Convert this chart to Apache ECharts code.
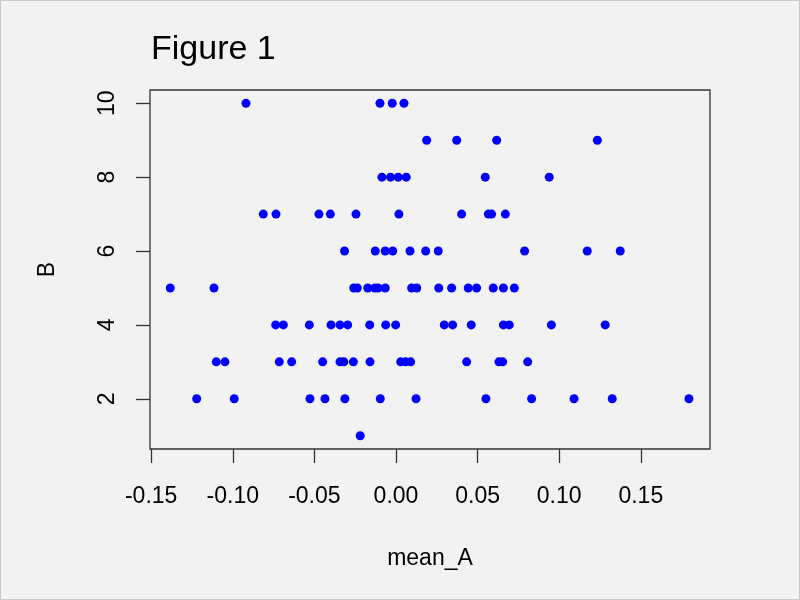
<!DOCTYPE html>
<html>
<head>
<meta charset="utf-8">
<script src="https://cdn.jsdelivr.net/npm/echarts@6/dist/echarts.min.js"></script>
<style>
  html, body { margin: 0; padding: 0; background: #f2f2f2; }
  #chart { width: 800px; height: 600px; }
</style>
</head>
<body>
<div id="chart"></div>
<script>
// mean_A values, one row per B level
var meanA = [
  -0.0919, -0.0098, -0.0023, 0.0049,
  0.0188, 0.0372, 0.0617, 0.1234,
  -0.0086, -0.0033, 0.0014, 0.0063, 0.0547, 0.0939,
  -0.0813, -0.0735, -0.0472, -0.0402, -0.0245, 0.0018, 0.0402, 0.0566, 0.0586, 0.0670,
  -0.0315, -0.0127, -0.0066, -0.0020, 0.0086, 0.0182, 0.0259, 0.0788, 0.1172, 0.1374,
  -0.1383, -0.1115, -0.0259, -0.0237, -0.0173, -0.0129, -0.0110, -0.0066, 0.0096, 0.0127,
  0.0262, 0.0341, 0.0443, 0.0494, 0.0596, 0.0658, 0.0725,
  -0.0737, -0.0690, -0.0531, -0.0398, -0.0343, -0.0296, -0.0161, -0.0063, -0.0002,
  0.0296, 0.0347, 0.0461, 0.0658, 0.0694, 0.0952, 0.1282,
  -0.1101, -0.1048, -0.0715, -0.0639, -0.0449, -0.0343, -0.0319, -0.0261, -0.0159,
  0.0029, 0.0059, 0.0090, 0.0433, 0.0631, 0.0654, 0.0807,
  -0.1221, -0.0991, -0.0527, -0.0435, -0.0313, -0.0096, 0.0123, 0.0551, 0.0831, 0.1091, 0.1325, 0.1795,
  -0.0219
]
// how many points sit on each B level
var bLevels = [10, 9, 8, 7, 6, 5, 4, 3, 2, 1]
var bCounts = [4, 4, 6, 10, 10, 17, 16, 16, 12, 1]

var xTicks = [-0.15, -0.10, -0.05, 0.00, 0.05, 0.10, 0.15]
var yTicks = [2, 4, 6, 8, 10]

var points = []
var k = 0
for (var i = 0; i < bLevels.length; i++) {
  for (var j = 0; j < bCounts[i]; j++) {
    points.push([meanA[k], bLevels[i]])
    k++
  }
}

var font = 'Liberation Sans, Arial, Helvetica, sans-serif'
var chart = echarts.init(document.getElementById('chart'))

chart.setOption({
  backgroundColor: '#f2f2f2',
  animation: false,
  title: {
    text: 'Figure 1',
    left: 151,
    top: 33,
    padding: 0,
    textStyle: { fontFamily: font, fontSize: 34, fontWeight: 'normal', color: '#000' }
  },
  grid: {
    left: 150, right: 90, top: 90, bottom: 151,
    show: true,
    borderColor: '#333',
    borderWidth: 1.3,
    backgroundColor: 'transparent'
  },
  xAxis: {
    type: 'value',
    min: -0.1507,
    max: 0.1924,
    name: 'mean_A',
    nameLocation: 'middle',
    nameGap: 98,
    nameTextStyle: { fontFamily: font, fontSize: 23, color: '#000' },
    splitLine: { show: false },
    axisLine: { show: false, onZero: false },
    axisTick: {
      show: true, length: 14, customValues: xTicks,
      lineStyle: { color: '#333', width: 1.3 }
    },
    axisLabel: {
      customValues: xTicks,
      margin: 36,
      fontFamily: font, fontSize: 23, color: '#000',
      formatter: function (v) { return v.toFixed(2) }
    }
  },
  yAxis: {
    type: 'value',
    min: 0.64,
    max: 10.36,
    name: 'B',
    nameLocation: 'middle',
    nameGap: 91,
    nameRotate: 90,
    nameTextStyle: { fontFamily: font, fontSize: 23, color: '#000' },
    splitLine: { show: false },
    axisLine: { show: false, onZero: false },
    axisTick: {
      show: true, length: 14, customValues: yTicks,
      lineStyle: { color: '#333', width: 1.3 }
    },
    axisLabel: {
      customValues: yTicks,
      rotate: 90,
      margin: 31,
      fontFamily: font, fontSize: 23, color: '#000'
    }
  },
  graphic: [{
    type: 'rect',
    shape: { x: 0.5, y: 0.5, width: 799, height: 599 },
    style: { fill: 'none', stroke: '#c8c8c8', lineWidth: 1 }
  }],
  series: [{
    type: 'scatter',
    data: points,
    symbol: 'circle',
    symbolSize: 9,
    itemStyle: { color: '#0000ff', opacity: 1 }
  }]
})
</script>
</body>
</html>
